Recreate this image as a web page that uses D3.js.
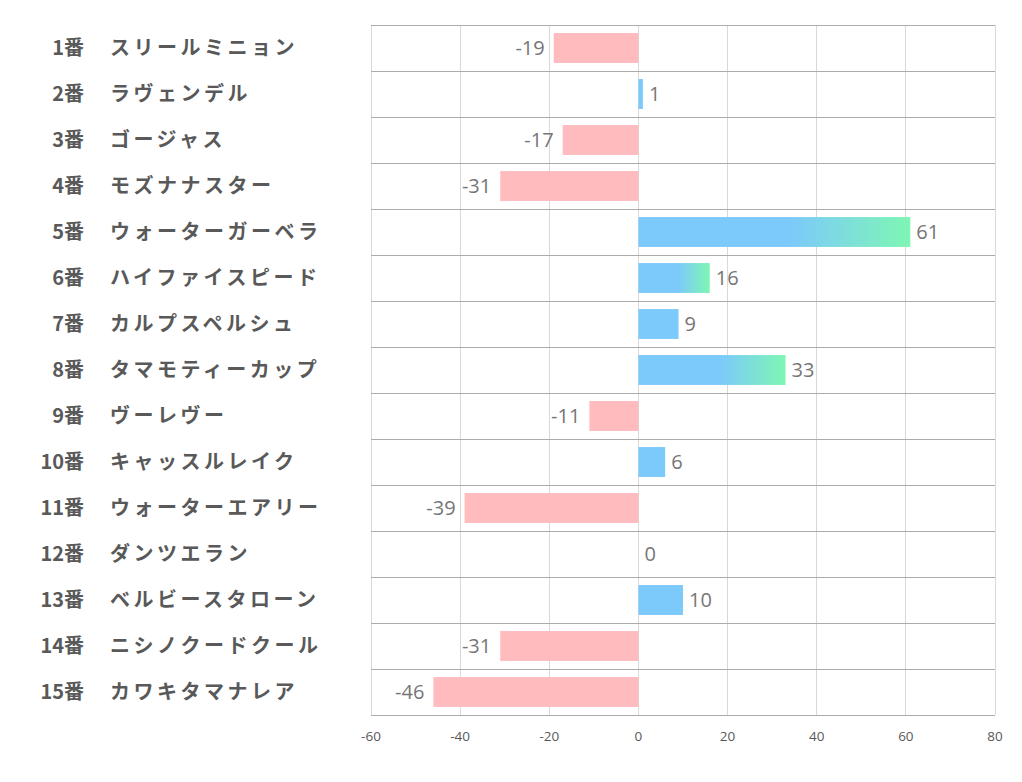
<!DOCTYPE html>
<html><head><meta charset="utf-8">
<script src="https://cdn.jsdelivr.net/npm/d3@7"></script>
<style>body{margin:0;background:#fff}</style>
</head><body><svg id="c" width="1022" height="782"></svg>
<script>
const numbers = ["1番","2番","3番","4番","5番","6番","7番","8番","9番","10番","11番","12番","13番","14番","15番"];
const names = ["スリールミニョン","ラヴェンデル","ゴージャス","モズナナスター","ウォーターガーベラ","ハイファイスピード","カルプスペルシュ","タマモティーカップ","ヴーレヴー","キャッスルレイク","ウォーターエアリー","ダンツエラン","ベルビースタローン","ニシノクードクール","カワキタマナレア"];
const values = [-19,1,-17,-31,61,16,9,33,-11,6,-39,0,10,-31,-46];
const ticks = [-60,-40,-20,0,20,40,60,80];

const svg = d3.select("#c");
const x = d3.scaleLinear().domain([-60,80]).range([371,995]);
const y = d3.scaleBand().domain(d3.range(values.length)).range([25,715]).paddingInner(0.35).paddingOuter(0.175);
const step = y.step();

const defs = svg.append("defs");
const g = defs.append("linearGradient").attr("id","grad").attr("x1","0%").attr("x2","100%");
g.append("stop").attr("offset","55%").attr("stop-color","#7cc9fc");
g.append("stop").attr("offset","100%").attr("stop-color","#7ef6b4");

// vertical gridlines
svg.append("g").selectAll("line").data(ticks).join("line")
  .attr("x1",d=>x(d)).attr("x2",d=>x(d)).attr("y1",25).attr("y2",715)
  .attr("stroke","#d9d9d9").attr("stroke-width",1).attr("shape-rendering","crispEdges");
// horizontal gridlines
svg.append("g").selectAll("line").data(d3.range(values.length+1)).join("line")
  .attr("x1",x(-60)).attr("x2",x(80))
  .attr("y1",i=>25+i*step).attr("y2",i=>25+i*step)
  .attr("stroke","#ababab").attr("stroke-width",1).attr("shape-rendering","crispEdges");

// bars
svg.append("g").selectAll("rect").data(values).join("rect")
  .attr("x",d=>x(Math.min(0,d)))
  .attr("width",d=>Math.abs(x(d)-x(0)))
  .attr("y",(d,i)=>y(i)).attr("height",y.bandwidth())
  .attr("fill",d=>d<0?"#ffbbbe":(d>15?"url(#grad)":"#7cc9fc"));

// value labels
svg.append("g").selectAll("text").data(values).join("text")
  .attr("x",d=>d<0?x(d)-9:x(d)+6)
  .attr("y",(d,i)=>y(i)+y.bandwidth()/2)
  .attr("dy","0.36em")
  .attr("text-anchor",d=>d<0?"end":"start")
  .attr("font-family","'Open Sans','Noto Sans',sans-serif")
  .attr("font-size",20).attr("fill","#767676")
  .text(d=>d);

// category labels
const lab = svg.append("g");
lab.selectAll("text.num").data(numbers).join("text").attr("class","num")
  .attr("x",84).attr("y",(d,i)=>y(i)+y.bandwidth()/2).attr("dy","0.34em")
  .attr("text-anchor","end")
  .attr("font-family","'Noto Sans CJK JP',sans-serif").attr("font-weight","bold")
  .attr("font-size",20).attr("fill","#595959").text(d=>d);
lab.selectAll("text.nm").data(names).join("text").attr("class","nm")
  .attr("x",110).attr("y",(d,i)=>y(i)+y.bandwidth()/2).attr("dy","0.34em")
  .attr("text-anchor","start").attr("letter-spacing",3.5)
  .attr("font-family","'Noto Sans CJK JP',sans-serif").attr("font-weight","bold")
  .attr("font-size",20).attr("fill","#595959").text(d=>d);

// x axis tick labels
svg.append("g").selectAll("text").data(ticks).join("text")
  .attr("x",d=>x(d)).attr("y",741).attr("text-anchor","middle")
  .attr("font-family","'Open Sans','Noto Sans',sans-serif")
  .attr("font-size",13.5).attr("fill","#595959").text(d=>d);
</script></body></html>
